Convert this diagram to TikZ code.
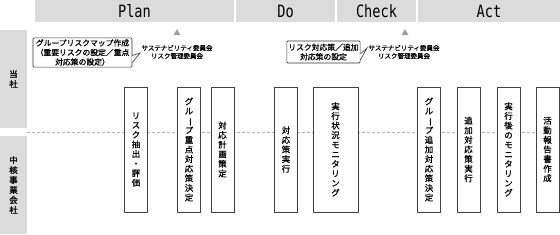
\documentclass[tikz,border=0pt]{standalone}
\usepackage{fontspec}
\setmainfont{Noto Sans CJK JP}
\newfontfamily\jpfont[FakeBold=1]{Noto Sans CJK JP}
\newfontfamily\hdfont[FakeStretch=0.8]{DejaVu Sans Mono}
\usetikzlibrary{shapes.geometric}
\newcommand{\cho}{\rotatebox[origin=c]{-90}{ー}}

\tikzset{
    bar/.style={fill=gray!28, draw=none, inner sep=0pt},
    phase/.style={bar, minimum height=22pt, font=\hdfont\fontsize{17}{17}\selectfont},
    lane/.style={bar, minimum width=27pt, minimum height=98pt, align=center, font=\jpfont\fontsize{8.5}{10}\selectfont},
    task/.style={draw=black!75, fill=white, line width=0.7pt, minimum height=125pt, minimum width=23pt,
        inner sep=0pt, align=center, font=\jpfont\fontsize{8.4}{9.6}\selectfont},
    note/.style={draw=black!80, fill=white, line width=0.6pt, rounded corners=1pt, align=center,
        inner sep=1.5pt, font=\jpfont\fontsize{7.8}{9.5}\selectfont},
    board/.style={align=center, inner sep=0pt, font=\jpfont\fontsize{6.5}{8}\selectfont},
    marker/.style={regular polygon, regular polygon sides=3, fill=gray!75, inner sep=0pt, minimum size=8pt},
    tail/.style={draw=black!80, line width=0.6pt},
    sep/.style={gray!60, dashed, dash pattern=on 3pt off 2pt, line width=0.6pt}
}

\begin{document}
\begin{tikzpicture}[x=1pt, y=-1pt]
    \useasboundingbox (0,0) rectangle (560,234);

    % PDCA header
    \node[phase, minimum width=199pt] (plan) at (134.5,11) {Plan};
    \node[phase, minimum width=99pt] (do) at (285.5,11) {Do};
    \node[phase, minimum width=79pt] (check) at (376.5,11) {Check};
    \node[phase, minimum width=142pt] (act) at (489,11) {Act};

    % lanes
    \node[lane] (hq) at (13.5,79) {当\\社};
    \node[lane] (core) at (13.5,185) {中\\核\\事\\業\\会\\社};
    \draw[sep] (27,132) -- (560,132);

    % tasks
    \node[task] (t1) at (136,149.5) {リ\\ス\\ク\\抽\\出\\・\\評\\価};
    \node[task] (t2) at (189,149.5) {グ\\ル\\\cho\\プ\\重\\点\\対\\応\\策\\決\\定};
    \node[task] (t3) at (222.5,149.5) {対\\応\\計\\画\\策\\定};
    \node[task] (t4) at (286,149.5) {対\\応\\策\\実\\行};
    \node[task, minimum width=45pt] (t5) at (335.5,149.5) {実\\行\\状\\況\\モ\\ニ\\タ\\リ\\ン\\グ};
    \node[task] (t6) at (429,149.5) {グ\\ル\\\cho\\プ\\追\\加\\対\\応\\策\\決\\定};
    \node[task] (t7) at (468.5,149.5) {追\\加\\対\\応\\策\\実\\行};
    \node[task] (t8) at (508.5,149.5) {実\\行\\後\\の\\モ\\ニ\\タ\\リ\\ン\\グ};
    \node[task] (t9) at (547.5,149.5) {活\\動\\報\\告\\書\\作\\成};

    % committees
    \node[marker] (m1) at (177,33) {};
    \node[marker] (m2) at (405,33) {};
    \node[board] (k1) at (177,52) {サステナビリティ委員会\\リスク管理委員会};
    \node[board] (k2) at (404,52) {サステナビリティ委員会\\リスク管理委員会};

    % callouts
    \node[note, minimum width=99pt, minimum height=29pt] (c1) at (82.5,52.5)
        {グループリスクマップ作成\\（重要リスクの設定／重点\\対応策の設定）};
    \coordinate (p1) at (140,53);
    \fill[white] ([xshift=-0.8pt,yshift=-3pt]c1.east) -- (p1) -- ([xshift=-0.8pt,yshift=-10pt]c1.east) -- cycle;
    \draw[tail] ([yshift=-3pt]c1.east) -- (p1) -- ([yshift=-10pt]c1.east);

    \node[note, minimum width=73pt, minimum height=22pt] (c2) at (323.5,52)
        {リスク対応策／追加\\対応策の設定};
    \coordinate (p2) at (367,48);
    \fill[white] ([xshift=-0.8pt,yshift=-2pt]c2.east) -- (p2) -- ([xshift=-0.8pt,yshift=-8pt]c2.east) -- cycle;
    \draw[tail] ([yshift=-2pt]c2.east) -- (p2) -- ([yshift=-8pt]c2.east);
\end{tikzpicture}
\end{document}
